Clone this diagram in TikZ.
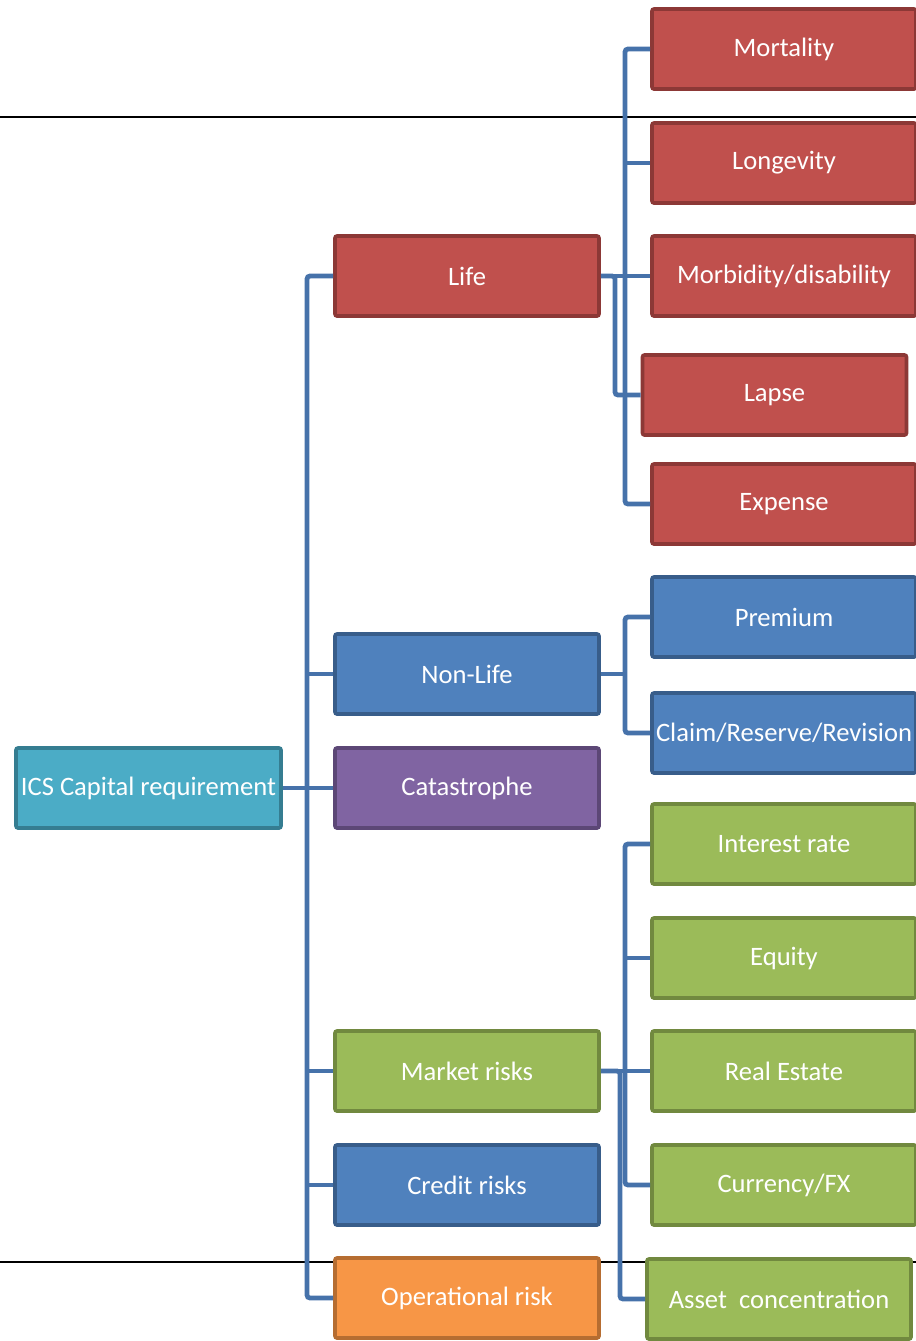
\documentclass[tikz,border=0pt]{standalone}
\usepackage{fontspec}
\setmainfont{Carlito}
\usepackage{tikz}

\definecolor{lifered}{RGB}{192,80,77}
\definecolor{lifeedge}{RGB}{140,56,54}
\definecolor{nlblue}{RGB}{79,129,189}
\definecolor{nledge}{RGB}{56,93,138}
\definecolor{mkgreen}{RGB}{155,187,89}
\definecolor{mkedge}{RGB}{113,137,63}
\definecolor{catpurple}{RGB}{128,100,162}
\definecolor{catedge}{RGB}{92,71,118}
\definecolor{rootteal}{RGB}{75,172,198}
\definecolor{rootedge}{RGB}{53,125,145}
\definecolor{oporange}{RGB}{247,150,70}
\definecolor{opedge}{RGB}{182,109,49}
\definecolor{connblue}{RGB}{70,114,170}

\begin{document}
\begin{tikzpicture}[x=0.5pt, y=-0.5pt,
    riskbox/.style={shape=rectangle, line width=1.8pt, rounded corners=1pt,
        minimum width=132pt, minimum height=40pt, inner sep=1pt,
        text=white, font=\fontsize{13.3}{16}\selectfont},
    redbox/.style={riskbox, fill=lifered, draw=lifeedge},
    bluebox/.style={riskbox, fill=nlblue, draw=nledge},
    greenbox/.style={riskbox, fill=mkgreen, draw=mkedge},
    conn/.style={draw=connblue, line width=2.4pt, rounded corners=1.5pt}]
        \useasboundingbox (0,0) rectangle (916,1341);
        % horizontal rules behind the chart
        \draw[line width=0.8pt] (0,117) -- (916,117);
        \draw[line width=0.8pt] (0,1262) -- (916,1262);

        % root and first level
        \node[riskbox, fill=rootteal, draw=rootedge, minimum width=132.5pt] (root) at (148.5,788) {ICS Capital requirement};
        \node[redbox] (life) at (467,276) {Life};
        \node[bluebox] (nonlife) at (467,674) {Non-Life};
        \node[riskbox, fill=catpurple, draw=catedge] (cat) at (467,788) {Catastrophe};
        \node[greenbox] (market) at (467,1071) {Market risks};
        \node[bluebox] (credit) at (467,1185) {Credit risks};
        \node[riskbox, fill=oporange, draw=opedge] (oper) at (467,1298) {Operational risk};

        % life sub-risks
        \node[redbox] (mort) at (784,49) {Mortality};
        \node[redbox] (long) at (784,163) {Longevity};
        \node[redbox] (morb) at (784,276) {Morbidity/disability};
        \node[redbox] (lapse) at (774.5,395) {Lapse};
        \node[redbox] (exp) at (784,504) {Expense};

        % non-life sub-risks
        \node[bluebox] (prem) at (784,617) {Premium};
        \node[bluebox] (claim) at (784,733) {Claim/Reserve/Revision};

        % market sub-risks
        \node[greenbox] (rate) at (784,844) {Interest rate};
        \node[greenbox] (equity) at (784,958) {Equity};
        \node[greenbox] (estate) at (784,1071) {Real Estate};
        \node[greenbox] (fx) at (784,1185) {Currency/FX};
        \node[greenbox] (asset) at (779,1299) {Asset\ \ concentration};

        % connectors
        \coordinate (rj) at (307,788);
        \coordinate (lj) at (625,276);
        \coordinate (lj2) at (615,276);
        \coordinate (nj) at (625,674);
        \coordinate (mj) at (625,1071);
        \coordinate (mj2) at (620,1071);

        \draw[conn] (root.east) -- (cat.west);
        \draw[conn] (life.west) -| (rj) |- (oper.west);
        \foreach \n in {nonlife,market,credit}
            \draw[conn] (rj |- \n.west) -- (\n.west);

        \draw[conn] (life.east) -- (morb.west);
        \draw[conn] (mort.west) -| (lj) |- (exp.west);
        \draw[conn] (lj |- long.west) -- (long.west);
        \draw[conn] (life.east) -- (lj2) |- (lapse.west);

        \draw[conn] (nonlife.east) -- (nj);
        \draw[conn] (prem.west) -| (nj) |- (claim.west);

        \draw[conn] (market.east) -- (estate.west);
        \draw[conn] (rate.west) -| (mj) |- (fx.west);
        \draw[conn] (mj |- equity.west) -- (equity.west);
        \draw[conn] (market.east) -- (mj2) |- (asset.west);
    \end{tikzpicture}
\end{document}
